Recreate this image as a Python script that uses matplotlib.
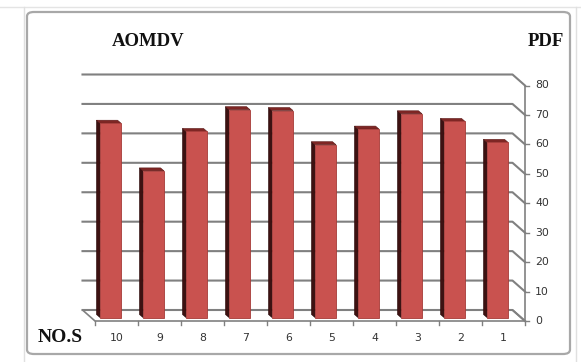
import matplotlib
matplotlib.use("Agg")
import matplotlib.pyplot as plt
from matplotlib.patches import Polygon, FancyBboxPatch
from matplotlib.lines import Line2D

# ---- data ----
categories = ["10", "9", "8", "7", "6", "5", "4", "3", "2", "1"]
pdf_values = [66.0, 49.8, 63.2, 70.6, 70.3, 58.7, 64.0, 69.2, 66.6, 59.5]
y_ticks = [0, 10, 20, 30, 40, 50, 60, 70, 80]
title_left = "AOMDV"
title_right = "PDF"
x_title = "NO.S"

W, H = 581, 362
fig = plt.figure(figsize=(W / 100, H / 100), dpi=100)
fig.patch.set_facecolor("white")

# front plane of the 3-D box, in pixel terms
L, R, Y0, Y80 = 95, 525, 321, 85.5
ax = fig.add_axes([L / W, (H - Y0) / H, (R - L) / W, (Y0 - Y80) / H])
ax.set_xlim(0, len(categories))
ax.set_ylim(0, 80)
ax.axis("off")

pxx = (R - L) / len(categories)   # px per category
pxy = (Y0 - Y80) / 80.0           # px per unit

def off(dxp, dyp):
    return dxp / pxx, dyp / pxy

wall_dx, wall_dy = off(-12.5, 11)
bar_dx, bar_dy = off(-6, 3.5)
dep_dx, dep_dy = off(-3.5, 3)

grid_c = "#808080"
n = len(categories)

# floor
floor = Polygon([(0, 0), (n, 0), (n + wall_dx, wall_dy), (wall_dx, wall_dy)],
                closed=True, facecolor="white", edgecolor=grid_c, lw=1.2,
                clip_on=False, zorder=1)
ax.add_patch(floor)

# back wall gridlines with diagonal to the front axis
for t in y_ticks:
    ax.add_line(Line2D([wall_dx, n + wall_dx, n], [t + wall_dy, t + wall_dy, t],
                       color=grid_c, lw=1.5, clip_on=False, zorder=2))

# front value axis
ax.add_line(Line2D([n, n], [0, 80], color=grid_c, lw=1.2, clip_on=False, zorder=2))
for t in y_ticks:
    ax.add_line(Line2D([n, n + off(4, 0)[0]], [t, t], color=grid_c, lw=1.0,
                       clip_on=False, zorder=2))
    ax.text(n + off(10, 0)[0], t, str(t), ha="left", va="center", fontsize=7.8,
            color="#333333", family="DejaVu Sans", clip_on=False)

# category ticks on the front floor edge
for i in range(n + 1):
    ax.add_line(Line2D([i, i], [0, off(0, -4)[1]], color=grid_c, lw=1.0,
                       clip_on=False, zorder=2))
for i, c in enumerate(categories):
    ax.text(i + 0.5, off(0, -17)[1], c, ha="center", va="center", fontsize=7.8,
            color="#333333", family="DejaVu Sans", clip_on=False)

# bars
bw = 0.49
xs = [i + 0.5 + bar_dx for i in range(n)]
for x, v in zip(xs, pdf_values):
    x0, x1 = x - bw / 2, x + bw / 2
    b0, b1 = bar_dy, bar_dy + v
    side = Polygon([(x0, b0), (x0, b1), (x0 + dep_dx, b1 + dep_dy), (x0 + dep_dx, b0 + dep_dy)],
                   closed=True, facecolor="#3d1111", edgecolor="#2a0a0a", lw=0.4,
                   clip_on=False, zorder=3)
    top = Polygon([(x0, b1), (x1, b1), (x1 + dep_dx, b1 + dep_dy), (x0 + dep_dx, b1 + dep_dy)],
                  closed=True, facecolor="#7e2624", edgecolor="#5a1816", lw=0.4,
                  clip_on=False, zorder=3)
    ax.add_patch(side)
    ax.add_patch(top)
ax.bar(xs, pdf_values, width=bw, bottom=bar_dy, color="#C9524F",
       edgecolor="#a63b38", linewidth=0.6, zorder=4, clip_on=False)

# titles
fig.text(112 / W, 1 - 41 / H, title_left, ha="left", va="center", fontsize=13.5,
         fontweight="bold", family="Liberation Serif", color="#111111")
fig.text(564 / W, 1 - 41 / H, title_right, ha="right", va="center", fontsize=13.5,
         fontweight="bold", family="Liberation Serif", color="#111111")
fig.text(38 / W, 1 - 338 / H, x_title, ha="left", va="center", fontsize=14,
         fontweight="bold", family="Liberation Serif", color="#111111")

# chart area border and faint sheet lines
fig.add_artist(Line2D([0, 1], [1 - 7 / H, 1 - 7 / H], color="#e4e4e4", lw=1.0))
fig.add_artist(Line2D([24 / W, 24 / W], [0, 1 - 7 / H], color="#e0e0e0", lw=1.0))
fig.add_artist(Line2D([576 / W, 576 / W], [0, 1 - 7 / H], color="#e0e0e0", lw=1.0))
border = FancyBboxPatch((27 / W, 8 / H), (570 - 27) / W, (354 - 12) / H,
                        boxstyle="round,pad=0,rounding_size=0.012",
                        transform=fig.transFigure, facecolor="none",
                        edgecolor="#a8a8a8", lw=1.6)
fig.add_artist(border)

fig.savefig("out.png", dpi=100)
